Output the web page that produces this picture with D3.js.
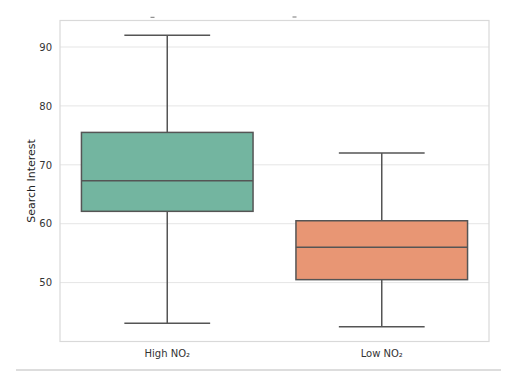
<!DOCTYPE html>
<html><head><meta charset="utf-8">
<script src="https://cdn.jsdelivr.net/npm/d3@7"></script>
<style>body{margin:0;background:#fff;} svg{display:block;font-family:"DejaVu Sans",sans-serif;}</style>
</head><body><svg id="c" width="526" height="389"></svg>
<script>
const categories = ["High NO₂", "Low NO₂"];
const whiskerLow = [43.1, 42.5];
const q1 = [62.1, 50.5];
const medians = [67.3, 56.0];
const q3 = [75.5, 60.5];
const whiskerHigh = [92.0, 72.0];
const yTicks = [50, 60, 70, 80, 90];
const colors = ["#73b5a0", "#e89674"];

const svg = d3.select("#c");
const L = 60, R = 489, T = 20.5, B = 341.5;
const x = d3.scaleBand().domain(categories).range([L, R]);
const y = d3.scaleLinear().domain([40, 94.5]).range([B, T]);

// grid
svg.append("g").selectAll("line").data(yTicks).join("line")
  .attr("x1", L).attr("x2", R).attr("y1", d => y(d)).attr("y2", d => y(d))
  .attr("stroke", "#e5e5e5").attr("stroke-width", 1);

// frame
svg.append("rect").attr("x", L).attr("y", T).attr("width", R - L).attr("height", B - T)
  .attr("fill", "none").attr("stroke", "#d9d9d9").attr("stroke-width", 1.2);

// axes
const yAxis = svg.append("g").attr("transform", `translate(${L},0)`)
  .call(d3.axisLeft(y).tickValues(yTicks).tickSize(0).tickPadding(8));
yAxis.select(".domain").remove();
yAxis.selectAll("text").attr("font-size", 10).attr("fill", "#333").attr("font-family", "DejaVu Sans");

const xAxis = svg.append("g").attr("transform", `translate(0,${B})`)
  .call(d3.axisBottom(x).tickSize(0).tickPadding(8));
xAxis.select(".domain").remove();
xAxis.selectAll("text").attr("font-size", 10).attr("fill", "#333").attr("font-family", "DejaVu Sans");

svg.append("text").attr("transform", `translate(35,${(T + B) / 2}) rotate(-90)`)
  .attr("text-anchor", "middle").attr("font-size", 11).attr("fill", "#222")
  .text("Search Interest");

// boxes
const bw = x.bandwidth() * 0.8;
const g = svg.append("g").selectAll("g").data(categories).join("g");
const lc = "#555", lw = 1.5;
g.append("line").attr("x1", d => x(d) + x.bandwidth() / 2).attr("x2", d => x(d) + x.bandwidth() / 2)
  .attr("y1", (d, i) => y(whiskerHigh[i])).attr("y2", (d, i) => y(q3[i])).attr("stroke", lc).attr("stroke-width", lw);
g.append("line").attr("x1", d => x(d) + x.bandwidth() / 2).attr("x2", d => x(d) + x.bandwidth() / 2)
  .attr("y1", (d, i) => y(q1[i])).attr("y2", (d, i) => y(whiskerLow[i])).attr("stroke", lc).attr("stroke-width", lw);
[whiskerHigh, whiskerLow].forEach(arr => {
  g.append("line").attr("x1", d => x(d) + x.bandwidth() / 2 - bw / 4).attr("x2", d => x(d) + x.bandwidth() / 2 + bw / 4)
    .attr("y1", (d, i) => y(arr[i])).attr("y2", (d, i) => y(arr[i])).attr("stroke", lc).attr("stroke-width", lw);
});
g.append("rect").attr("x", d => x(d) + (x.bandwidth() - bw) / 2).attr("width", bw)
  .attr("y", (d, i) => y(q3[i])).attr("height", (d, i) => y(q1[i]) - y(q3[i]))
  .attr("fill", (d, i) => colors[i]).attr("stroke", lc).attr("stroke-width", lw);
g.append("line").attr("x1", d => x(d) + (x.bandwidth() - bw) / 2).attr("x2", d => x(d) + (x.bandwidth() + bw) / 2)
  .attr("y1", (d, i) => y(medians[i])).attr("y2", (d, i) => y(medians[i])).attr("stroke", lc).attr("stroke-width", lw);

// clipped fragments at top
[[150.5, 17.3], [292.5, 17]].forEach(p => svg.append("line").attr("x1", p[0]).attr("x2", p[0] + 4)
  .attr("y1", p[1]).attr("y2", p[1]).attr("stroke", "#777").attr("stroke-width", 1));

// bottom rule
svg.append("line").attr("x1", 16).attr("x2", 501).attr("y1", 370).attr("y2", 370)
  .attr("stroke", "#bbb").attr("stroke-width", 1);
</script></body></html>
